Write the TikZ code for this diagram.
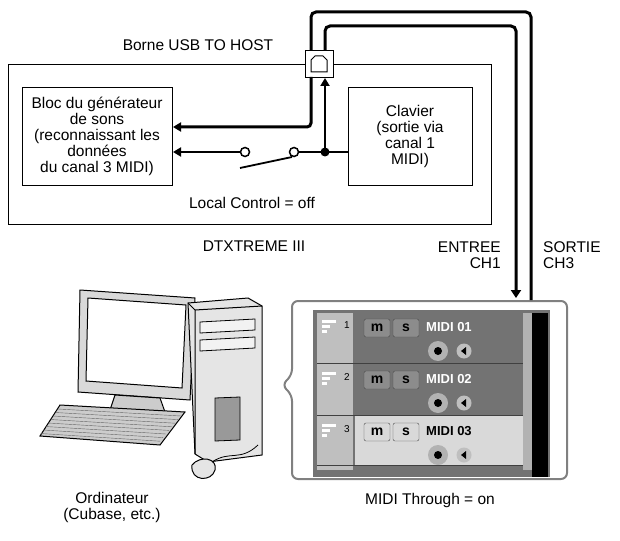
\documentclass[tikz,border=0pt]{standalone}
\usepackage{fontspec}
\setmainfont{Liberation Sans}
\usetikzlibrary{arrows.meta}
\begin{document}
\begin{tikzpicture}[x=1pt,y=-1pt,
  box/.style={draw,line width=1pt},
  cab/.style={line width=3pt,rounded corners=5pt},
  sig/.style={line width=2.5pt,-{Triangle[length=8pt,width=9pt]}},
  lbl/.style={font=\fontsize{15.5}{16}\selectfont,align=center,inner sep=0pt},
  btn/.style={draw=black!70,rounded corners=2pt,minimum width=26pt,minimum height=18pt,inner sep=0pt,font=\bfseries\fontsize{14}{14}\selectfont}]
\useasboundingbox (0,0) rectangle (620,540);
% main box
\draw[box] (8,65) rectangle (491,224);
\node[box,minimum width=150pt,minimum height=98pt,anchor=north west,inner sep=0pt] (snd) at (22,87) {};
\node[lbl] at (97,136) {Bloc du générateur\\de sons\\(reconnaissant les\\données\\du canal 3 MIDI)};
\node[box,minimum width=124pt,minimum height=98pt,anchor=north west] (kbd) at (348,87) {};
\node[lbl] at (410,136) {Clavier\\(sortie via\\canal 1\\MIDI)};
% USB
\node[box,fill=white,minimum width=28pt,minimum height=27pt,anchor=north west,inner sep=0pt] (usb) at (305,50) {};
\draw[line width=1pt] (311,72) -- (311,60) -- (315,56) -- (323,56) -- (327,60) -- (327,72) -- cycle;
% panel
\fill[black!55] (313,310) rectangle (550,477);
\draw[black!50,line width=2pt,rounded corners=6pt] (292,301) -- (567,301) -- (567,479) -- (292,479) -- (292,395) -- (282,385) -- (292,375) -- cycle;
% cables
\draw[cab] (311,50) -- (311,12) -- (531,12) -- (531,300);
\draw[cab,-{Triangle[length=8pt,width=10pt]}] (325,50) -- (325,26) -- (516,26) -- (516,298);
\draw[line width=3pt,rounded corners=4pt,-{Triangle[length=8pt,width=9pt]}] (311,77) -- (311,127) -- (snd.east |- 0,127);
% signal path
\coordinate (j) at (325,152);
\node[circle,draw,line width=1.5pt,fill=white,minimum size=9pt,inner sep=0pt] (s1) at (245,152) {};
\node[circle,draw,line width=1.5pt,fill=white,minimum size=9pt,inner sep=0pt] (s2) at (294,152) {};
\draw[sig] (s1.west) -- (snd.east |- s1);
\draw[line width=2.5pt] (kbd.west |- j) -- (s2.east);
\draw[sig] (j) -- (usb.south -| j);
\fill (j) circle (4.5pt);
\draw[line width=1.8pt] (240,168) -- (292,157);
% labels
\node[lbl] at (198,45) {Borne USB TO HOST};
\node[lbl] at (252,203) {Local Control = off};
\node[lbl] at (254,246) {DTXTREME III};
\node[lbl,align=right,anchor=east] at (501,255) {ENTREE\\CH1};
\node[lbl,align=left,anchor=west] at (543,255) {SORTIE\\CH3};
\node[lbl] at (430,500) {MIDI Through = on};
\node[lbl] at (112,507) {Ordinateur\\(Cubase, etc.)};
% panel rows
\fill[black!25] (317,313) rectangle (353,470);
\fill[black!15] (355,415) rectangle (523,465);
\foreach \y in {363,415,465} \draw[black!75,line width=1pt] (317,\y) -- (523,\y);
\fill[black!30] (523,313) rectangle (532,470);
\fill[black] (532,313) rectangle (548,477);
\foreach \i/\y/\c/\s in {1/313/white/45,2/365/white/45,3/417/black/15} {
  \foreach \w/\dy in {14/7,8/12,5/17} \fill[white] (322,\y+\dy) rectangle (322+\w,\y+\dy+2.5);
  \node[font=\fontsize{10}{10}\selectfont] at (347,\y+12) {\i};
  \node[btn,fill=black!\s] at (377,\y+15) {m};
  \node[btn,fill=black!\s] at (406,\y+15) {s};
  \node[anchor=west,text=\c,font=\bfseries\fontsize{13}{13}\selectfont,inner sep=0pt] at (426,\y+14) {MIDI 0\i};
  \fill[black!30] (438,\y+38) circle (10pt); \fill[black] (438,\y+38) circle (4pt);
  \fill[black!25] (464,\y+38) circle (7.5pt); \fill[black] (461,\y+38) -- (466,\y+34) -- (466,\y+42) -- cycle;
}
% computer
\draw[line width=1pt,fill=black!15] (80,290) -- (195,298) -- (190,400) -- (78,392) -- cycle;
\draw[line width=1pt,fill=white] (88,298) -- (186,305) -- (182,388) -- (86,381) -- cycle;
\draw[line width=1pt,fill=black!20] (115,395) -- (160,398) -- (165,412) -- (110,410) -- cycle;
\draw[line width=1pt,fill=black!10] (188,303) -- (248,298) -- (262,306) -- (262,455) -- (208,462) -- (195,454) -- cycle;
\draw[line width=1pt] (195,454) -- (195,310) -- (262,306) (195,310) -- (188,303);
\draw[line width=0.8pt,fill=black!5] (200,322) -- (255,319) -- (255,330) -- (200,333) -- cycle;
\draw[line width=0.8pt,fill=black!5] (200,340) -- (255,337) -- (255,348) -- (200,351) -- cycle;
\draw[line width=0.8pt,fill=black!40] (215,398) -- (240,397) -- (240,440) -- (215,441) -- cycle;
\draw[line width=1pt,fill=black!20] (60,405) -- (185,412) -- (160,445) -- (40,436) -- cycle;
\foreach \k in {0,...,7} \draw[black!60] (58-\k*2.5,409+\k*3.5) -- (181-\k*3,416+\k*3.6);
\draw[line width=1pt,fill=black!10] (192,465) .. controls (200,455) and (218,458) .. (215,470) .. controls (212,482) and (190,482) .. (192,465);
\draw[line width=0.8pt] (212,462) .. controls (230,450) and (240,462) .. (258,445);
\end{tikzpicture}
\end{document}
